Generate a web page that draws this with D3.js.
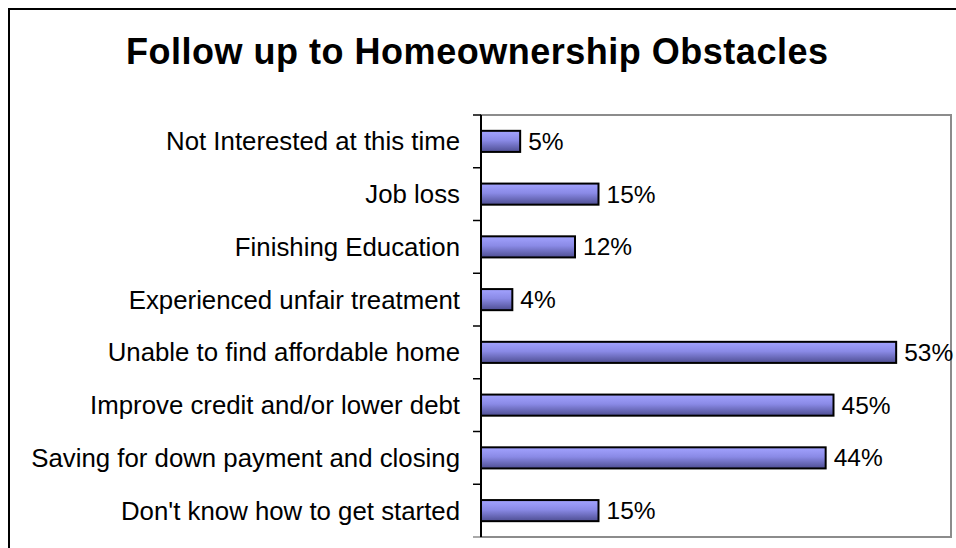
<!DOCTYPE html>
<html>
<head>
<meta charset="utf-8">
<script src="https://cdn.jsdelivr.net/npm/d3@7"></script>
<style>
  html, body { margin: 0; padding: 0; background: #fff; }
  svg { display: block; }
</style>
</head>
<body>
<svg id="chart" width="956" height="548"></svg>
<script>
// Survey responses: share of respondents citing each obstacle
const categories = [
  "Not Interested at this time",
  "Job loss",
  "Finishing Education",
  "Experienced unfair treatment",
  "Unable to find affordable home",
  "Improve credit and/or lower debt",
  "Saving for down payment and closing",
  "Don't know how to get started"
];
const values = [0.05, 0.15, 0.12, 0.04, 0.53, 0.45, 0.44, 0.15];
const valueLabels = ["5%", "15%", "12%", "4%", "53%", "45%", "44%", "15%"];
const titleText = "Follow up to Homeownership Obstacles";

const svg = d3.select("#chart");
const font = "'Liberation Sans', Arial, sans-serif";

// Outer chart frame
svg.append("rect")
  .attr("x", 9).attr("y", 9)
  .attr("width", 960).attr("height", 560)
  .attr("fill", "#fff")
  .attr("stroke", "#000").attr("stroke-width", 2);

// Title
svg.append("text")
  .attr("x", 477).attr("y", 64)
  .attr("text-anchor", "middle")
  .attr("font-family", font)
  .attr("font-weight", "bold")
  .attr("font-size", 36)
  .attr("textLength", 702)
  .attr("lengthAdjust", "spacing")
  .attr("fill", "#000")
  .text(titleText);

// Plot area
const plot = { left: 481, top: 115, right: 951, bottom: 537 };

const x = d3.scaleLinear().domain([0, 0.6]).range([plot.left, plot.right]);
const y = d3.scaleBand().domain(categories).range([plot.top, plot.bottom])
  .paddingInner(0.6).paddingOuter(0.3);
const yEdges = d3.scaleLinear().domain([0, categories.length]).range([plot.top, plot.bottom]);

// Gradient fill for bars
const defs = svg.append("defs");
const grad = defs.append("linearGradient")
  .attr("id", "barFill")
  .attr("x1", 0).attr("y1", 0).attr("x2", 0).attr("y2", 1);
grad.append("stop").attr("offset", "0%").attr("stop-color", "#a3a3ff");
grad.append("stop").attr("offset", "45%").attr("stop-color", "#8a8ae6");
grad.append("stop").attr("offset", "100%").attr("stop-color", "#4e4e92");

// Plot area border (gray)
svg.append("rect")
  .attr("x", plot.left).attr("y", plot.top)
  .attr("width", plot.right - plot.left)
  .attr("height", plot.bottom - plot.top)
  .attr("fill", "none")
  .attr("stroke", "#8c8c8c").attr("stroke-width", 2);

// Category axis: line plus tick marks at band boundaries
const ticks = d3.range(categories.length + 1);
svg.append("g").selectAll("line")
  .data(ticks).join("line")
  .attr("x1", plot.left - 8).attr("x2", plot.left)
  .attr("y1", d => yEdges(d)).attr("y2", d => yEdges(d))
  .attr("stroke", d => d === categories.length ? "#8c8c8c" : "#000")
  .attr("stroke-width", 1.5);
svg.append("line")
  .attr("x1", plot.left).attr("x2", plot.left)
  .attr("y1", plot.top).attr("y2", plot.bottom)
  .attr("stroke", "#000").attr("stroke-width", 2);

// Category labels
svg.append("g").selectAll("text")
  .data(categories).join("text")
  .attr("x", 460)
  .attr("y", d => y(d) + y.bandwidth() / 2)
  .attr("dy", "0.35em")
  .attr("text-anchor", "end")
  .attr("font-family", font)
  .attr("font-size", 25.8)
  .attr("fill", "#000")
  .text(d => d);

// Bars
svg.append("g").selectAll("rect")
  .data(values).join("rect")
  .attr("x", x(0))
  .attr("y", (d, i) => y(categories[i]))
  .attr("width", d => x(d) - x(0))
  .attr("height", y.bandwidth())
  .attr("fill", "url(#barFill)")
  .attr("stroke", "#000").attr("stroke-width", 2);

// Value labels
svg.append("g").selectAll("text")
  .data(values).join("text")
  .attr("x", d => x(d) + 8)
  .attr("y", (d, i) => y(categories[i]) + y.bandwidth() / 2)
  .attr("dy", "0.35em")
  .attr("font-family", font)
  .attr("font-size", 24.5)
  .attr("fill", "#000")
  .text((d, i) => valueLabels[i]);
</script>
</body>
</html>
